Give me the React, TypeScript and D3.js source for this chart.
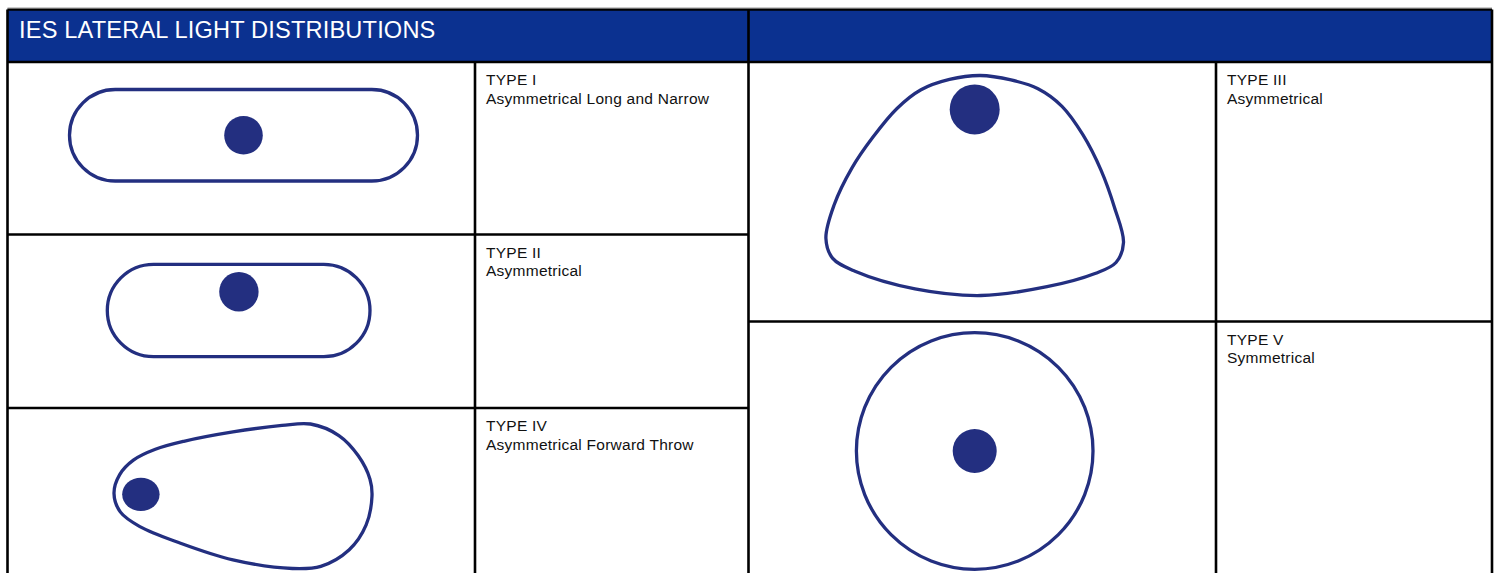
import React, { useRef, useEffect } from 'react';
import * as d3 from 'd3';

// chart content
const title = 'IES LATERAL LIGHT DISTRIBUTIONS';
const typeNames = ['TYPE I', 'TYPE II', 'TYPE IV', 'TYPE III', 'TYPE V'];
const typeDescriptions = [
  'Asymmetrical Long and Narrow',
  'Asymmetrical',
  'Asymmetrical Forward Throw',
  'Asymmetrical',
  'Symmetrical',
];
const outlineKinds = ['stadium', 'stadium', 'egg', 'dome', 'circle'];

// light source position inside each outline (0..1 of the outline's box)
const lampX = [0.5, 0.501, 0.104, 0.499, 0.5];
const lampY = [0.5, 0.297, 0.487, 0.154, 0.5];

// traced contours, normalised to their bounding box
const eggOutline: [number, number][] = [
  [0, 0.48], [0.022, 0.35], [0.075, 0.25], [0.16, 0.175], [0.27, 0.12],
  [0.46, 0.055], [0.65, 0.01], [0.76, 0], [0.87, 0.08], [0.945, 0.22],
  [0.99, 0.38], [0.998, 0.5], [0.975, 0.7], [0.91, 0.87], [0.8, 0.985],
  [0.69, 1], [0.46, 0.94], [0.25, 0.82], [0.1, 0.71], [0.025, 0.61],
];
const domeOutline: [number, number][] = [
  [0.517, 0], [0.62, 0.02], [0.71, 0.06], [0.79, 0.14], [0.86, 0.27],
  [0.92, 0.43], [0.965, 0.6], [0.995, 0.76], [0.97, 0.85], [0.9, 0.9],
  [0.74, 0.96], [0.52, 1], [0.3, 0.97], [0.1, 0.89], [0.025, 0.83],
  [0.003, 0.74], [0.03, 0.59], [0.09, 0.42], [0.16, 0.28], [0.24, 0.15],
  [0.32, 0.065], [0.415, 0.018],
];

// layout
const W = 1499;
const H = 573;
const gridX = { left: 7.5, textA: 475, mid: 748.5, textB: 1216, right: 1492 };
const gridY = { top: 9.5, head: 62, rowA: 234.5, rowB: 408, rowR: 321.5, bottom: 640 };
const cellTops = [gridY.head, gridY.rowA, gridY.rowB, gridY.head, gridY.rowR];
const textLeft = [gridX.textA, gridX.textA, gridX.textA, gridX.textB, gridX.textB];
// outline boxes [x0, x1, y0, y1]
const boxes = [
  [69.5, 417.5, 89.5, 181],
  [107.3, 370, 264.3, 356.7],
  [114, 372.5, 424, 568.5],
  [825, 1125, 75.5, 295.5],
  [856.4, 1093, 332.7, 569.3],
];
const lampR: [number, number][] = [[19.3, 19.3], [19.7, 19.7], [18.7, 16.7], [25, 25], [22, 22]];

const BLUE = '#0b3190';
const INK = '#232f80';
const FONT = '"Liberation Sans", Arial, Helvetica, sans-serif';

export default function App() {
  const svgRef = useRef<SVGSVGElement>(null);

  useEffect(() => {
    const svg = d3.select(svgRef.current);
    svg.selectAll('*').remove();

    // header band
    svg.append('rect')
      .attr('x', gridX.left).attr('y', gridY.top)
      .attr('width', gridX.right - gridX.left).attr('height', gridY.head - gridY.top)
      .attr('fill', BLUE);

    svg.append('text')
      .attr('x', 19).attr('y', 37.5)
      .attr('fill', '#fff')
      .attr('font-family', FONT).attr('font-size', 23.6)
      .attr('letter-spacing', 0.17)
      .text(title);

    // shapes
    const outline = d3.line().curve(d3.curveCatmullRomClosed.alpha(0.5));

    typeNames.forEach((name, i) => {
      const [bx0, bx1, by0, by1] = boxes[i];
      const x = d3.scaleLinear().domain([0, 1]).range([bx0, bx1]);
      const y = d3.scaleLinear().domain([0, 1]).range([by0, by1]);
      const g = svg.append('g');
      const kind = outlineKinds[i];

      if (kind === 'stadium') {
        g.append('rect')
          .attr('x', x(0)).attr('y', y(0))
          .attr('width', x(1) - x(0)).attr('height', y(1) - y(0))
          .attr('rx', (y(1) - y(0)) / 2)
          .attr('fill', 'none').attr('stroke', INK).attr('stroke-width', 3.3);
      } else if (kind === 'circle') {
        g.append('ellipse')
          .attr('cx', x(0.5)).attr('cy', y(0.5))
          .attr('rx', (x(1) - x(0)) / 2).attr('ry', (y(1) - y(0)) / 2)
          .attr('fill', 'none').attr('stroke', INK).attr('stroke-width', 3.3);
      } else {
        const pts = (kind === 'egg' ? eggOutline : domeOutline).map(([u, v]) => [x(u), y(v)] as [number, number]);
        g.append('path')
          .attr('d', outline(pts))
          .attr('fill', 'none').attr('stroke', INK).attr('stroke-width', 3.3);
      }

      g.append('ellipse')
        .attr('cx', x(lampX[i])).attr('cy', y(lampY[i]))
        .attr('rx', lampR[i][0]).attr('ry', lampR[i][1])
        .attr('fill', INK);

      const t = svg.append('text')
        .attr('font-family', FONT).attr('font-size', 15.5)
        .attr('letter-spacing', 0.25).attr('fill', '#111');
      t.append('tspan').attr('x', textLeft[i] + 11).attr('y', cellTops[i] + 23.3).text(name);
      t.append('tspan').attr('x', textLeft[i] + 11).attr('y', cellTops[i] + 41.5).text(typeDescriptions[i]);
    });

    // grid lines
    const grid = [
      [gridX.left, gridY.head, gridX.right, gridY.head],
      [gridX.left, gridY.rowA, gridX.mid, gridY.rowA],
      [gridX.left, gridY.rowB, gridX.mid, gridY.rowB],
      [gridX.mid, gridY.rowR, gridX.right, gridY.rowR],
      [gridX.textA, gridY.head, gridX.textA, gridY.bottom],
      [gridX.textB, gridY.head, gridX.textB, gridY.bottom],
      [gridX.mid, gridY.top, gridX.mid, gridY.bottom],
      [gridX.left, gridY.top, gridX.left, gridY.bottom],
      [gridX.right, gridY.top, gridX.right, gridY.bottom],
      [gridX.left, gridY.top, gridX.right, gridY.top],
    ];
    svg.append('g').selectAll('line')
      .data(grid)
      .join('line')
      .attr('x1', d => d[0]).attr('y1', d => d[1])
      .attr('x2', d => d[2]).attr('y2', d => d[3])
      .attr('stroke', '#000').attr('stroke-width', 2.6);

    svg.append('line')
      .attr('x1', gridX.left).attr('x2', gridX.right)
      .attr('y1', 8).attr('y2', 8)
      .attr('stroke', '#999').attr('stroke-width', 1);
  }, []);

  return (
    <svg
      ref={svgRef}
      width={W}
      height={H}
      style={{ position: 'absolute', left: 0, top: 0, background: '#fff', display: 'block' }}
    />
  );
}
